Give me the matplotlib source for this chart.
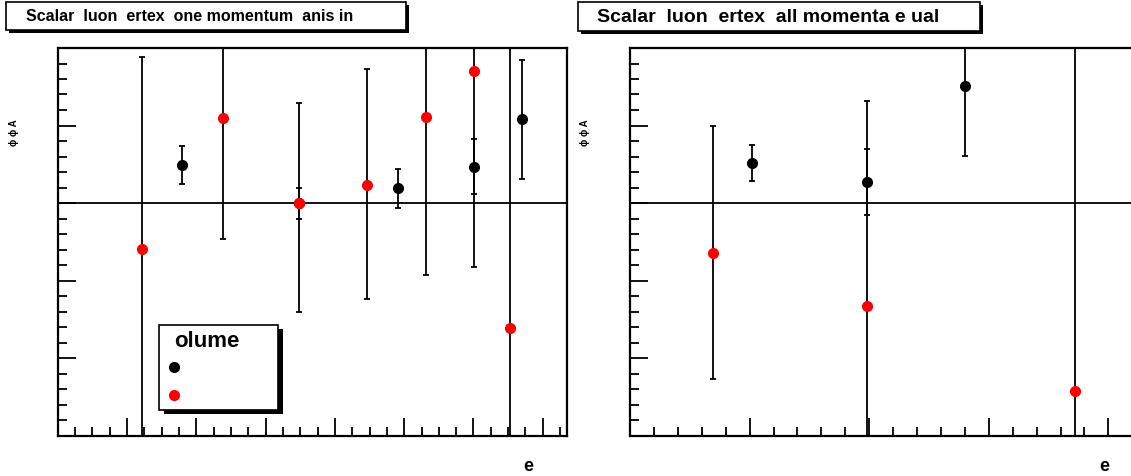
import numpy as np
import matplotlib
matplotlib.use('Agg')
import matplotlib.pyplot as plt
from matplotlib.patches import Rectangle
from matplotlib.lines import Line2D
from matplotlib.ticker import MultipleLocator, NullFormatter

plt.rcParams['font.family'] = ['Liberation Sans', 'DejaVu Sans']

W, H = 1131, 477

# ---- data: left panel ("one momentum vanishing") ----
left_black_x = [1.80, 3.48, 4.91, 6.01, 6.70]
left_black_y = [0.49, 0.00, 0.19, 0.47, 1.08]
left_black_err = [0.25, 0.20, 0.25, 0.36, 0.77]

left_red_x = [1.21, 2.38, 3.48, 4.46, 5.32, 6.01, 6.53]
left_red_y = [-0.59, 1.10, 0.00, 0.23, 1.11, 1.70, -1.61]
left_red_err_lo = [2.48, 1.57, 1.41, 1.47, 2.04, 2.52, 4.00]
left_red_err_hi = [2.48, 1.57, 1.29, 1.50, 2.04, 2.52, 4.00]

# ---- data: right panel ("all momenta equal") ----
right_black_x = [1.02, 1.98, 2.80]
right_black_y = [0.52, 0.27, 1.51]
right_black_err = [0.23, 0.43, 0.90]

right_red_x = [0.69, 1.98, 3.72]
right_red_y = [-0.64, -1.33, -2.43]
right_red_err = [1.63, 2.64, 5.00]


def px(x0, y0, w, h):
    # pixel box (top-left origin) -> figure fraction rect
    return [x0 / W, 1 - (y0 + h) / H, w / W, h / H]


fig = plt.figure(figsize=(W / 100, H / 100), dpi=100)


def setup(ax, xmax, xmajor, xminor):
    ax.set_xlim(0, xmax)
    ax.set_ylim(-3.0, 2.0)
    ax.xaxis.set_major_locator(MultipleLocator(xmajor))
    ax.xaxis.set_minor_locator(MultipleLocator(xminor))
    ax.yaxis.set_major_locator(MultipleLocator(1.0))
    ax.yaxis.set_minor_locator(MultipleLocator(0.2))
    ax.xaxis.set_major_formatter(NullFormatter())
    ax.yaxis.set_major_formatter(NullFormatter())
    ax.tick_params(which='both', direction='in', top=False, right=False, color='black', width=1.3)
    ax.tick_params(which='major', length=13)
    ax.tick_params(which='minor', length=6.5)
    for s in ax.spines.values():
        s.set_linewidth(1.6)
    ax.axhline(0, color='black', lw=1.3, zorder=1)


def draw(ax, x, y, e, color):
    ax.errorbar(x, y, yerr=e, fmt='o', color=color, mec=color, ecolor='black', elinewidth=1.3,
                capsize=2.5, capthick=1.3, markersize=7, zorder=3)


# left panel
ax1 = fig.add_axes(px(57.7, 49, 509.6, 387.5))
setup(ax1, 7.354, 1.0, 0.25)
draw(ax1, left_black_x, left_black_y, left_black_err, 'black')
draw(ax1, left_red_x, left_red_y, [left_red_err_lo, left_red_err_hi], 'red')

# right panel (extends beyond the canvas, like the original)
ax2 = fig.add_axes(px(630, 49, 511, 387.5))
setup(ax2, 4.273, 1.0, 0.2)
draw(ax2, right_black_x, right_black_y, right_black_err, 'black')
draw(ax2, right_red_x, right_red_y, right_red_err, 'red')

# axis titles
for xp, xl in [(14, 528), (585, 1104)]:
    fig.text(xp / W, 1 - 133 / H, 'ϕ ϕ A', rotation=90, ha='center', va='center',
             fontsize=7, fontweight='bold')
    fig.text(xl / W, 1 - 467 / H, 'e', ha='center', va='center', fontsize=13, fontweight='bold')


# title boxes with shadow
def title_box(x0, y0, w, h, text, tx, size):
    fig.add_artist(Rectangle(((x0 + 3) / W, 1 - (y0 + h + 3) / H), w / W, h / H,
                             transform=fig.transFigure, facecolor='black',
                             edgecolor='none', zorder=5))
    fig.add_artist(Rectangle((x0 / W, 1 - (y0 + h) / H), w / W, h / H, transform=fig.transFigure,
                             facecolor='white', edgecolor='black', lw=1.2, zorder=6))
    fig.text(tx / W, 1 - (y0 + h / 2) / H, text, ha='left', va='center', fontsize=size,
             fontweight='bold', zorder=7)


title_box(6, 3, 400, 27.5, 'Scalar  luon  ertex  one momentum  anis in', 26, 11.5)
title_box(578, 3, 402, 28.5, 'Scalar  luon  ertex  all momenta e ual', 597, 14)

# legend box with shadow
lx, ly, lw, lh = 158.5, 325.5, 119, 85
fig.add_artist(Rectangle(((lx + 5) / W, 1 - (ly + lh + 4) / H), lw / W, lh / H,
                         transform=fig.transFigure, facecolor='black', edgecolor='none', zorder=5))
fig.add_artist(Rectangle((lx / W, 1 - (ly + lh) / H), lw / W, lh / H, transform=fig.transFigure,
                         facecolor='white', edgecolor='black', lw=1.2, zorder=6))
fig.text(174 / W, 1 - 342 / H, 'olume', ha='left', va='center', fontsize=16,
         fontweight='bold', zorder=7)
for yy, c in [(368, 'black'), (396, 'red')]:
    fig.add_artist(Line2D([174 / W], [1 - yy / H], transform=fig.transFigure, marker='o',
                          color=c, markersize=7, zorder=7))

fig.savefig('out.png', dpi=100)
